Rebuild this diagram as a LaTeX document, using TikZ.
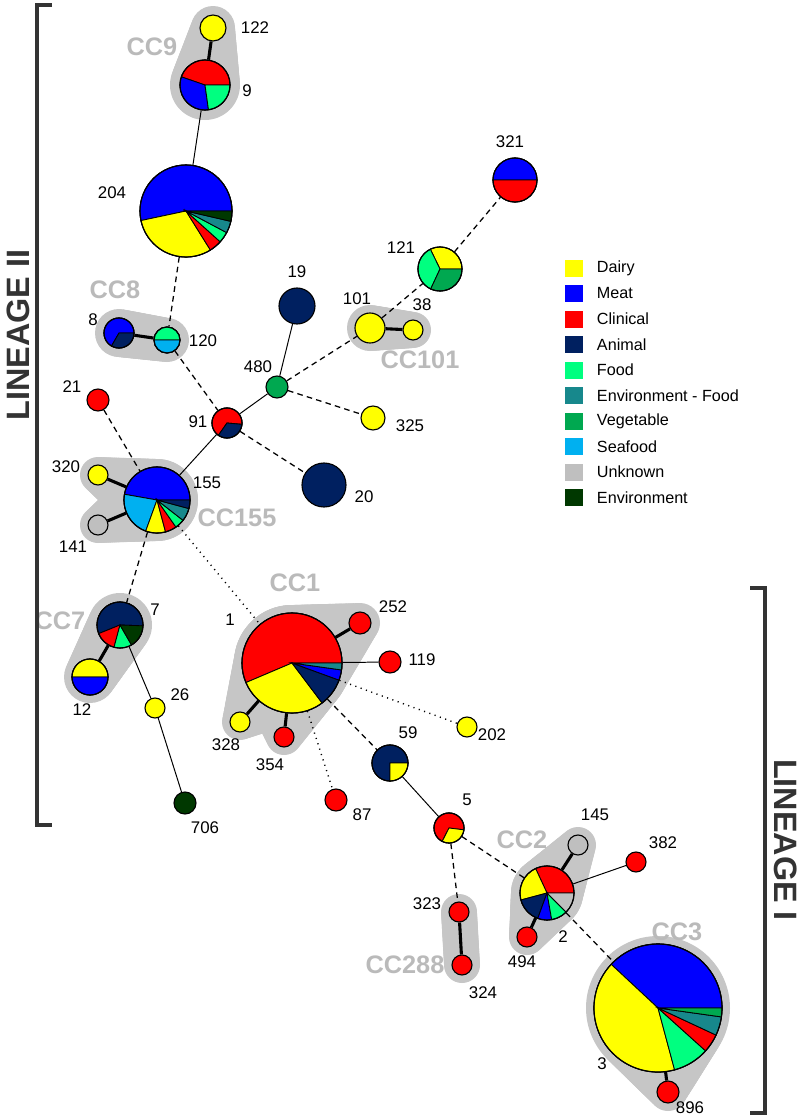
\documentclass[tikz,border=0pt]{standalone}
\usepackage{fontspec}
\setmainfont{Liberation Sans}
\usetikzlibrary{calc,backgrounds}

\definecolor{dairy}{RGB}{255,255,0}
\definecolor{meat}{RGB}{0,0,255}
\definecolor{clin}{RGB}{255,0,0}
\definecolor{animal}{RGB}{0,32,96}
\definecolor{food}{RGB}{0,255,128}
\definecolor{envfood}{RGB}{23,136,140}
\definecolor{veg}{RGB}{0,168,80}
\definecolor{seafood}{RGB}{0,176,240}
\definecolor{unknown}{RGB}{191,191,191}
\definecolor{env}{RGB}{0,56,0}
\definecolor{hullgray}{RGB}{198,198,198}
\definecolor{ccgray}{RGB}{186,186,186}
\definecolor{brack}{RGB}{51,51,51}

\def\pxu{0.025cm}

% pie slices: start/end/colour
\newcommand{\piechart}[3]{%
  \foreach \sa/\sb/\sc in {#3}
    \filldraw[fill=\sc, line width=0.6pt] (#1.center) -- ++(\sa:{#2*\pxu}) arc[start angle=\sa, end angle=\sb, radius={#2*\pxu}] -- cycle;
  \draw[line width=0.8pt] (#1.center) circle[radius={#2*\pxu}];
}
% grey hull between two nodes
\newcommand{\ccblob}[4]{%
  \foreach \t in {0,0.05,...,1}
    \fill[hullgray] ($(#1.center)!\t!(#2.center)$) circle[radius={(#3+(#4-#3)*\t)*\pxu}];
  \fill[hullgray] (#2.center) circle[radius={#4*\pxu}];
}

\tikzset{
  stnode/.style={circle, draw, line width=0.8pt, inner sep=0pt, minimum size={2*#1*\pxu}},
  num/.style={font=\fontsize{12}{14}\selectfont, inner sep=1pt},
  cclab/.style={font=\fontsize{18}{20}\selectfont\bfseries, text=ccgray},
  lineage/.style={font=\fontsize{23}{25}\selectfont\bfseries, text=brack},
  link/.style={line width=0.7pt},
  tie/.style={line width=2.2pt},
  dlink/.style={line width=0.9pt, dash pattern=on 4pt off 3pt},
  olink/.style={line width=1pt, dash pattern=on 0.8pt off 3.2pt},
  swatch/.style={minimum width={18*\pxu}, minimum height={17*\pxu}, inner sep=0pt}
}

\begin{document}
\begin{tikzpicture}[x=0.025cm, y=-0.025cm]
    \useasboundingbox (0,0) rectangle (800,1120);

    % nodes
    \node[stnode=13, fill=dairy] (n122) at (213,28) {};
    \node[stnode=25] (n9) at (205,85) {};
    \node[stnode=46] (n204) at (186,211) {};
    \node[stnode=15] (n8) at (119,333) {};
    \node[stnode=13] (n120) at (167,340) {};
    \node[stnode=15] (n91) at (227,423) {};
    \node[stnode=11, fill=clin] (n21) at (98,400) {};
    \node[stnode=11, fill=veg] (n480) at (277,387) {};
    \node[stnode=18, fill=animal] (n19) at (297,306) {};
    \node[stnode=22, fill=animal] (n20) at (324,485) {};
    \node[stnode=15, fill=dairy] (n101) at (370,328) {};
    \node[stnode=10, fill=dairy] (n38) at (413,330) {};
    \node[stnode=22] (n121) at (440,269) {};
    \node[stnode=22] (n321) at (515,180) {};
    \node[stnode=12, fill=dairy] (n325) at (373,418) {};
    \node[stnode=33] (n155) at (157,500) {};
    \node[stnode=10, fill=dairy] (n320) at (98,475) {};
    \node[stnode=10, fill=unknown] (n141) at (98,525) {};
    \node[stnode=23] (n7) at (120,625) {};
    \node[stnode=18] (n12) at (90,677) {};
    \node[stnode=10, fill=dairy] (n26) at (155,708) {};
    \node[stnode=11, fill=env] (n706) at (185,803) {};
    \node[stnode=50] (n1) at (292,663) {};
    \node[stnode=11, fill=clin] (n252) at (360,623) {};
    \node[stnode=11, fill=clin] (n119) at (390,662) {};
    \node[stnode=10, fill=dairy] (n328) at (240,722) {};
    \node[stnode=10, fill=clin] (n354) at (284,737) {};
    \node[stnode=10, fill=dairy] (n202) at (467,727) {};
    \node[stnode=11, fill=clin] (n87) at (336,800) {};
    \node[stnode=18] (n59) at (390,763) {};
    \node[stnode=15] (n5) at (449,828) {};
    \node[stnode=27] (n2) at (547,893) {};
    \node[stnode=10, fill=unknown] (n145) at (578,845) {};
    \node[stnode=10, fill=clin] (n382) at (636,862) {};
    \node[stnode=10, fill=clin] (n494) at (527,937) {};
    \node[stnode=10, fill=clin] (n323) at (459,912) {};
    \node[stnode=10, fill=clin] (n324) at (462,965) {};
    \node[stnode=64] (n3) at (658,1008) {};
    \node[stnode=11, fill=clin] (n896) at (668,1092) {};

    % connectors
    \draw[link] (n9) -- (n204);
    \draw[dlink] (n204) -- (n120);
    \draw[dlink] (n120) -- (n91);
    \draw[dlink] (n21) -- (n155);
    \draw[link] (n91) -- (n155);
    \draw[link] (n91) -- (n480);
    \draw[link] (n480) -- (n19);
    \draw[dlink] (n91) -- (n20);
    \draw[dlink] (n480) -- (n101);
    \draw[dlink] (n480) -- (n325);
    \draw[dlink] (n101) -- (n121);
    \draw[dlink] (n121) -- (n321);
    \draw[dlink] (n155) -- (n7);
    \draw[olink] (n155) -- (n1);
    \draw[link] (n7) -- (n26);
    \draw[link] (n26) -- (n706);
    \draw[link] (n1) -- (n119);
    \draw[olink] (n1) -- (n202);
    \draw[olink] (n1) -- (n87);
    \draw[dlink] (n1) -- (n59);
    \draw[link] (n59) -- (n5);
    \draw[dlink] (n5) -- (n2);
    \draw[dlink] (n5) -- (n323);
    \draw[link] (n2) -- (n382);
    \draw[dlink] (n2) -- (n3);
    \draw[tie] (n122) -- (n9);
    \draw[tie] (n8) -- (n120);
    \draw[tie] (n101) -- (n38);
    \draw[tie] (n155) -- (n320);
    \draw[tie] (n155) -- (n141);
    \draw[tie] (n7) -- (n12);
    \draw[tie] (n1) -- (n252);
    \draw[tie] (n1) -- (n328);
    \draw[tie] (n1) -- (n354);
    \draw[tie] (n2) -- (n145);
    \draw[tie] (n2) -- (n494);
    \draw[tie] (n323) -- (n324);
    \draw[tie] (n3) -- (n896);

    % pies
    \piechart{n9}{25}{0/161/clin, 161/278/meat, 278/360/food}
    \piechart{n204}{46}{0/192/meat, 192/302/dairy, 302/318/clin, 318/332/food, 332/347/envfood, 347/360/env}
    \piechart{n8}{15}{0/240/meat, 240/360/animal}
    \piechart{n120}{13}{0/180/food, 180/360/seafood}
    \piechart{n91}{15}{-5/235/clin, 235/355/animal}
    \piechart{n121}{22}{0/116/dairy, 116/245/food, 245/360/veg}
    \piechart{n321}{22}{0/180/meat, 180/360/clin}
    \piechart{n155}{33}{0/170/meat, 170/250/seafood, 250/285/dairy, 285/305/clin, 305/322/food, 322/345/envfood, 345/360/animal}
    \piechart{n7}{23}{-2/202/animal, 202/255/clin, 255/300/food, 300/358/env}
    \piechart{n12}{18}{0/180/dairy, 180/360/meat}
    \piechart{n1}{50}{0/203/clin, 203/307/dairy, 307/340/animal, 340/352/meat, 352/360/envfood}
    \piechart{n59}{18}{0/270/animal, 270/360/dairy}
    \piechart{n5}{15}{-7/243/clin, 243/353/dairy}
    \piechart{n2}{27}{0/115/clin, 115/195/dairy, 195/250/animal, 250/280/meat, 280/315/food, 315/360/unknown}
    \piechart{n3}{64}{0/137/meat, 137/285/dairy, 285/318/food, 318/335/clin, 335/352/envfood, 352/360/veg}

    % labels
    \node[num] (l122) at (255,28) {122};
    \node[num] (l9) at (247,91) {9};
    \node[num] (l204) at (112,193) {204};
    \node[num] (l8) at (93,320) {8};
    \node[num] (l120) at (203,341) {120};
    \node[num] (l91) at (198,422) {91};
    \node[num] (l21) at (72,387) {21};
    \node[num] (l480) at (258,367) {480};
    \node[num] (l19) at (297,272) {19};
    \node[num] (l20) at (364,497) {20};
    \node[num] (l101) at (357,299) {101};
    \node[num] (l38) at (422,305) {38};
    \node[num] (l121) at (401,248) {121};
    \node[num] (l321) at (510,142) {321};
    \node[num] (l325) at (410,426) {325};
    \node[num] (l155) at (207,483) {155};
    \node[num] (l320) at (66,467) {320};
    \node[num] (l141) at (73,547) {141};
    \node[num] (l7) at (155,610) {7};
    \node[num] (l12) at (82,710) {12};
    \node[num] (l26) at (180,695) {26};
    \node[num] (l706) at (205,828) {706};
    \node[num] (l1) at (230,620) {1};
    \node[num] (l252) at (393,607) {252};
    \node[num] (l119) at (422,660) {119};
    \node[num] (l328) at (226,745) {328};
    \node[num] (l354) at (270,765) {354};
    \node[num] (l202) at (492,735) {202};
    \node[num] (l87) at (362,815) {87};
    \node[num] (l59) at (408,733) {59};
    \node[num] (l5) at (467,800) {5};
    \node[num] (l2) at (563,937) {2};
    \node[num] (l494) at (522,962) {494};
    \node[num] (l145) at (595,815) {145};
    \node[num] (l382) at (663,843) {382};
    \node[num] (l323) at (427,904) {323};
    \node[num] (l324) at (483,993) {324};
    \node[num] (l3) at (602,1064) {3};
    \node[num] (l896) at (690,1108) {896};

    \node[cclab] (cc9) at (152,47) {CC9};
    \node[cclab] (cc8) at (115,290) {CC8};
    \node[cclab] (cc101) at (420,360) {CC101};
    \node[cclab] (cc155) at (237,518) {CC155};
    \node[cclab] (cc7) at (60,621) {CC7};
    \node[cclab] (cc1) at (295,583) {CC1};
    \node[cclab] (cc2) at (522,840) {CC2};
    \node[cclab] (cc288) at (405,965) {CC288};
    \node[cclab] (cc3) at (677,932) {CC3};

    % hulls
    \begin{scope}[on background layer]
        \ccblob{n9}{n122}{35}{22}
        \ccblob{n8}{n120}{24}{22}
        \ccblob{n101}{n38}{23}{18}
        \ccblob{n155}{n320}{41}{18}
        \ccblob{n155}{n141}{41}{18}
        \ccblob{n7}{n12}{32}{26}
        \ccblob{n1}{n252}{58}{20}
        \ccblob{n1}{n328}{58}{18}
        \ccblob{n1}{n354}{58}{18}
        \ccblob{n2}{n145}{36}{18}
        \ccblob{n2}{n494}{36}{18}
        \ccblob{n323}{n324}{18}{18}
        \ccblob{n3}{n896}{72}{19}
    \end{scope}

    % lineages
    \draw[brack, line width=2.5pt] (52,5) -- (37,5) -- (37,825) -- (52,825);
    \draw[brack, line width=2.5pt] (750,588) -- (765,588) -- (765,1113) -- (750,1113);
    \node[lineage, rotate=90] (lin2) at (18,335) {LINEAGE II};
    \node[lineage, rotate=-90] (lin1) at (786,840) {LINEAGE I};

    % legend
    \foreach \col/\txt [count=\i from 0] in {dairy/Dairy, meat/Meat, clin/Clinical, animal/Animal, food/Food, envfood/Environment - Food, veg/Vegetable, seafood/Seafood, unknown/Unknown, env/Environment}
    {
        \node[swatch, fill=\col] (sw\i) at (574,{268+25.5*\i}) {};
        \node[anchor=west, font=\fontsize{11.5}{13}\selectfont] (lg\i) at (592,{268+25.5*\i}) {\txt};
    }
\end{tikzpicture}
\end{document}
